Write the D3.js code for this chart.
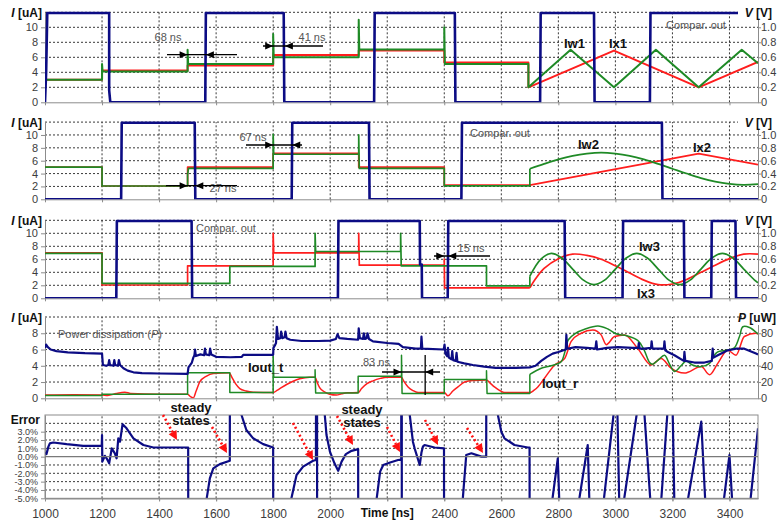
<!DOCTYPE html>
<html>
<head>
<meta charset="utf-8">
<script src="https://cdn.jsdelivr.net/npm/d3@7/dist/d3.min.js"></script>
<style>
  body { margin: 0; background: #fff; }
  svg { font-family: 'Liberation Sans', Arial, sans-serif; display: block; }
  .grid line { stroke: #222; stroke-width: 0.9; stroke-dasharray: 2 2; }
  .axis path, .axis line { stroke: #8c8c8c; }
  .axis text { fill: #3c3c3c; font-size: 11px; font-family: 'Liberation Sans', Arial, sans-serif; }
  .note { fill: #555; font-size: 11px; }
  .lbl { font-size: 13px; font-weight: bold; fill: #111; }
  .title { font-size: 12px; font-weight: bold; fill: #111; }
</style>
</head>
<body>
<svg width="777" height="524"></svg>
<script>
'use strict'

const timeTicks = [1000, 1200, 1400, 1600, 1800, 2000, 2200, 2400, 2600, 2800, 3000, 3200, 3400]
const iTicks = [0, 2, 4, 6, 8, 10]
const vTicks = [0, 0.2, 0.4, 0.6, 0.8, 1.0]
const iTicks4 = [0, 2, 4, 6, 8]
const pTicks = [0, 20, 40, 60, 80]
const errTicks = [-5, -4, -3, -2, -1, 0, 1, 2, 3]

// panel 1: comparator output [V], Iw1 / Ix1 [uA]
const cmp1 = [[1000, 0], [1004, 0.4], [1008, 1.19], [1225, 1.19], [1225, 0.16], [1229, 0], [1562, 0], [1564, 1.19],
  [1837, 1.19], [1839, 0], [2154, 0], [2156, 1.19], [2437, 1.19], [2439, 0], [2736, 0], [2738, 1.19],
  [2925, 1.19], [2927, 0], [3121, 0], [3123, 1.19], [3500, 1.19]]
const iw1 = [[1000, 3], [1200, 3], [1200, 5.1], [1202, 4.1], [1500, 4.1], [1500, 7], [1502, 5.1], [1800, 5.1],
  [1800, 9.1], [1802, 6.0], [2100, 6.0], [2100, 11], [2102, 7.05], [2400, 7.05], [2400, 10], [2402, 5.1],
  [2695, 5.1], [2695, 2], [2843, 7], [2995, 2], [3142, 7], [3292, 2], [3443, 7], [3500, 5.2]]
const ix1 = [[1000, 3], [1200, 3], [1200, 4.25], [1500, 4.25], [1500, 4.9], [1800, 4.9], [1800, 6.3], [2100, 6.3],
  [2100, 6.9], [2400, 6.9], [2400, 5.3], [2695, 5.3], [2695, 2], [2995, 6.9], [3292, 2], [3500, 5.4]]

// panel 2
const cmp2 = [[1000, 0], [1267, 0], [1269, 1.19], [1525, 1.19], [1527, 0], [1865, 0], [1867, 1.19], [2136, 1.19],
  [2138, 0], [2460, 0], [2462, 1.19], [3163, 1.19], [3165, 0], [3500, 0]]
const iw2 = [[1000, 5], [1200, 5], [1200, 2.07], [1500, 2.07], [1500, 3.8], [1503, 4.8], [1800, 4.8], [1800, 10.1],
  [1802, 7.0], [2100, 7.0], [2100, 10], [2102, 4.8], [2400, 4.8], [2400, 2.1], [2700, 2.1], [2700, 4.75]]
const iw2Wave = [[2700, 4.75], [2750, 5.5], [2800, 6.2], [2850, 6.75], [2900, 7.1], [2950, 7.25], [3000, 7.1],
  [3050, 6.75], [3100, 6.2], [3150, 5.5], [3200, 4.75], [3250, 4.0], [3300, 3.3], [3350, 2.75], [3400, 2.4],
  [3450, 2.25], [3500, 2.35]]
const ix2 = [[1000, 5], [1200, 5], [1200, 2.07], [1500, 2.07], [1500, 5.0], [1800, 5.0], [1800, 7.15], [2100, 7.15],
  [2100, 5.0], [2400, 5.0], [2400, 2.2], [2700, 2.2], [3292, 7.1], [3500, 5.4]]

// panel 3
const cmp3 = [[1000, 0], [1250, 0], [1252, 1.19], [1514, 1.19], [1516, 0], [2027, 0], [2029, 1.19], [2314, 1.19],
  [2315, 0.52], [2321, 0.52], [2322, 0], [2412, 0], [2414, 1.19], [2822, 1.19], [2824, 0], [3025, 0], [3027, 1.19],
  [3240, 1.19], [3242, 0], [3336, 0], [3338, 1.19], [3421, 1.19], [3423, 0], [3500, 0]]
const iw3 = [[1000, 6.9], [1200, 6.9], [1200, 2.3], [1648, 2.3], [1648, 4.9], [1947, 4.9], [1947, 10], [1949, 7.2],
  [2247, 7.2], [2247, 10], [2249, 5.0], [2548, 5.0], [2548, 1.9], [2700, 1.9], [2700, 3.4]]
const iw3Wave = [[2700, 3.4], [2738, 6.0], [2775, 6.9], [2812, 6.2], [2850, 4.5], [2888, 2.8], [2925, 2.1],
  [2962, 2.8], [3000, 4.5], [3038, 6.2], [3075, 6.9], [3112, 6.2], [3150, 4.5], [3188, 2.8], [3225, 2.1],
  [3262, 2.8], [3300, 4.5], [3338, 6.2], [3375, 6.9], [3412, 6.2], [3450, 4.5], [3488, 2.8], [3500, 2.4]]
const ix3 = [[1000, 7.0], [1200, 7.0], [1200, 2.05], [1500, 2.05], [1500, 5.0], [1800, 5.0], [1800, 10], [1802, 7.0],
  [2100, 7.0], [2100, 10], [2102, 5.1], [2400, 5.1], [2400, 6.05], [2401, 1.6], [2700, 1.6]]
const ix3Wave = [[2700, 1.6], [2720, 3.0], [2750, 4.6], [2800, 6.1], [2850, 6.8], [2900, 6.6], [2950, 6.0],
  [3000, 5.0], [3050, 3.9], [3100, 2.8], [3150, 2.1], [3200, 2.2], [3250, 2.9], [3300, 4.0], [3350, 5.1],
  [3400, 6.1], [3450, 6.8], [3500, 6.8]]

// panel 4: power [uW], Iout_t / Iout_r [uA]
const power = [[1000, 62], [1004, 66], [1010, 63], [1020, 60], [1040, 58], [1080, 56.5], [1140, 55.5], [1200, 55],
  [1201, 50], [1203, 41], [1215, 40], [1222, 41], [1225, 47], [1228, 41], [1240, 40], [1243, 47], [1246, 41],
  [1256, 40], [1259, 47], [1263, 41], [1275, 37], [1290, 34], [1310, 32], [1340, 31], [1400, 30.5], [1500, 30],
  [1503, 38], [1515, 44], [1520, 50], [1524, 53], [1526, 60], [1529, 52], [1545, 54], [1558, 53], [1561, 61],
  [1564, 54], [1576, 53], [1579, 61], [1583, 54], [1600, 51], [1650, 50.5], [1690, 51], [1695, 53.5], [1800, 53.5],
  [1801, 62], [1806, 65], [1810, 68], [1813, 88], [1817, 73], [1825, 74], [1828, 82], [1832, 74], [1840, 75],
  [1843, 82], [1847, 74], [1860, 72], [1900, 70.5], [1960, 70.5], [2000, 71], [2020, 73], [2026, 79], [2032, 74],
  [2060, 73], [2098, 72], [2100, 86], [2104, 74], [2115, 73], [2118, 80], [2122, 73], [2128, 74], [2131, 80],
  [2136, 73], [2150, 70], [2200, 68], [2240, 67], [2255, 63], [2300, 61], [2318, 61], [2320, 76], [2323, 61],
  [2398, 60], [2401, 66], [2404, 55], [2410, 52], [2413, 62], [2416, 50], [2425, 48], [2428, 58], [2431, 47],
  [2440, 46], [2443, 56], [2446, 45], [2470, 43], [2500, 41], [2540, 39], [2580, 37.5], [2650, 37.5], [2700, 38],
  [2720, 40], [2740, 46], [2760, 51], [2780, 55], [2800, 57], [2826, 60], [2828, 78], [2831, 61], [2860, 63],
  [2900, 62], [2930, 61], [2933, 70], [2936, 60], [2970, 62], [3009, 63], [3060, 62], [3080, 62], [3082, 68],
  [3085, 61], [3102, 61], [3125, 62], [3127, 70], [3130, 61], [3150, 61], [3170, 61], [3172, 70], [3175, 59],
  [3184, 57], [3207, 53], [3240, 46], [3242, 57], [3245, 46], [3277, 44], [3312, 44], [3338, 46], [3341, 61],
  [3344, 50], [3359, 53], [3394, 59], [3423, 61], [3452, 61], [3493, 55], [3500, 54]]
const ioutT = [[1000, 0.35], [1200, 0.35], [1200, 0.5], [1500, 0.5], [1500, 3.15], [1648, 3.15], [1648, 0.7],
  [1800, 0.7], [1800, 5.2], [1802, 2.6], [1947, 2.6], [1947, 3.5], [1949, 0.65], [2098, 0.65], [2098, 2.7],
  [2250, 2.7], [2250, 5.3], [2252, 0.6], [2400, 0.6], [2400, 2.3], [2548, 2.3], [2548, 3.4], [2550, 0.6],
  [2700, 0.6], [2700, 2.95]]
const ioutTWave = [[2700, 2.95], [2740, 3.7], [2775, 4.0], [2810, 4.5], [2822, 5.6], [2835, 7.2], [2860, 8.0],
  [2892, 8.5], [2939, 8.9], [2975, 8.5], [3005, 7.9], [3040, 7.7], [3079, 7.1], [3100, 6.0], [3120, 4.4],
  [3130, 4.2], [3150, 4.7], [3172, 5.3], [3190, 4.2], [3207, 3.3], [3230, 4.0], [3248, 4.6], [3270, 4.1],
  [3301, 3.9], [3330, 4.3], [3345, 5.2], [3359, 5.7], [3390, 5.9], [3417, 6.2], [3435, 7.6], [3447, 8.8],
  [3470, 8.7], [3500, 7.9]]
const ioutR = [[1000, 0.4], [1100, 0.45], [1200, 0.4], [1220, 0.35], [1250, 0.6], [1280, 0.75], [1300, 0.6],
  [1400, 0.5], [1500, 0.5], [1510, 0.2], [1520, 0.05], [1530, 0.9], [1543, 2.05], [1565, 2.7], [1590, 3.05],
  [1646, 3.15], [1655, 2.6], [1668, 1.8], [1683, 1.2], [1705, 0.9], [1730, 0.75], [1800, 0.72], [1815, 1.0],
  [1830, 1.35], [1847, 1.7], [1870, 2.1], [1893, 2.4], [1928, 2.6], [1947, 2.6], [1955, 1.9], [1963, 1.3],
  [1980, 0.8], [1998, 0.5], [2022, 0.4], [2040, 0.55], [2060, 0.68], [2098, 0.7], [2110, 1.2], [2129, 1.8],
  [2150, 2.15], [2176, 2.45], [2200, 2.6], [2250, 2.6], [2258, 2.1], [2273, 1.4], [2290, 0.95], [2308, 0.7],
  [2400, 0.7], [2413, 0.3], [2430, 0.9], [2448, 1.4], [2471, 2.0], [2500, 2.2], [2548, 2.25], [2560, 1.9],
  [2576, 1.4], [2595, 0.95], [2611, 0.7], [2700, 0.7], [2715, 1.0], [2728, 1.4], [2752, 2.5], [2787, 4.1],
  [2822, 4.9], [2845, 7.0], [2880, 8.0], [2921, 8.4], [2950, 7.8], [2968, 6.6], [2997, 7.6], [3032, 7.8],
  [3079, 6.1], [3125, 4.1], [3160, 4.9], [3195, 3.7], [3242, 3.1], [3301, 3.9], [3330, 2.9], [3359, 4.3],
  [3394, 5.9], [3423, 5.3], [3452, 7.6], [3493, 8.0], [3500, 7.9]]

// panel 5: error [%], null breaks the trace where it leaves the scale
const errorPct = [[1000, 0.5], [1005, 0.3], [1012, 1.2], [1017, 1.6], [1029, 1.7], [1076, 1.5], [1134, 1.3],
  [1199, 1.3], [1200, 2.6], [1201, -0.6], [1210, 0.1], [1216, -0.2], [1225, -0.8], [1234, 1.0], [1245, 0.4],
  [1251, -0.2], [1257, 2.2], [1263, 1.8], [1272, 3.9], [1286, 3.4], [1310, 2.2], [1345, 1.4], [1380, 1.1],
  [1502, 1.1], [1503, -30], null,
  [1560, -30], [1567, -5], [1578, -2.6], [1590, -1.4], [1613, -0.9], [1648, -0.5], [1649, 30], null,
  [1684, 30], [1689, 5], [1706, 3.2], [1730, 2.2], [1765, 1.5], [1800, 1.1], [1801, -30], null,
  [1860, -30], [1864, -5], [1882, -2.2], [1905, -1.2], [1940, -0.5], [1950, -0.4], [1951, 30], null,
  [1954, 30], [1954, -30], null,
  [1978, 30], [1981, 5], [1987, 2.6], [1999, 0.6], [2015, -0.8], [2028, -1.7], [2040, -0.6], [2055, 0.3],
  [2075, 0.7], [2098, 0.9], [2099, -30], null,
  [2160, -30], [2163, -5], [2175, -1.8], [2186, -1.0], [2210, -0.7], [2238, -0.4], [2249, -0.35], [2250, 30], null,
  [2251, 30], [2251, -30], null,
  [2276, 30], [2279, 5], [2290, 1.8], [2296, 1.0], [2314, -1.0], [2320, 0.5], [2325, 1.2], [2331, 1.4],
  [2366, 1.1], [2399, 1.0], [2400, -30], null,
  [2460, -30], [2465, -5], [2477, 0.2], [2495, 0.4], [2530, 0.0], [2547, 0.0], [2548, 30], null,
  [2585, 30], [2588, 5], [2600, 3.0], [2611, 2.2], [2646, 1.4], [2693, 1.1], [2699, 1.1], [2700, -30], null,
  [2768, -8], [2798, -0.2], [2806, -8], null,
  [2860, -8], [2903, 1.4], [2911, -8], null,
  [2950, -8], [3000, 7], [3006, 7], [3015, -8], [3018, -8], [3083, 7], [3098, 7], [3128, -8], null,
  [3155, -8], [3186, 7], [3200, 7], [3208, -8], null,
  [3240, -8], [3301, 4.2], [3319, -8], null,
  [3370, -8], [3400, 0.2], [3414, -8], null,
  [3465, -8], [3500, 3.4]]

const blue = '#0c0c84'
const red = '#ff1e1e'
const green = '#1f8a26'

const svg = d3.select('svg')
const x = d3.scaleLinear().domain([1000, 3500]).range([45, 758])

function lineOf (ys, curve) {
  return d3.line()
    .defined(function (d) { return d !== null })
    .x(function (d) { return x(d[0]) })
    .y(function (d) { return ys(d[1]) })
    .curve(curve || d3.curveLinear)
}

function panel (top, bottom, dom, grid, ticks, fmt) {
  const y = d3.scaleLinear().domain(dom).range([bottom, top])
  const g = svg.append('g')
  const id = 'clip' + Math.round(top)
  svg.append('clipPath').attr('id', id)
    .append('rect')
    .attr('x', 45).attr('y', top - 2)
    .attr('width', 713).attr('height', bottom - top + 2)
  g.append('g').attr('class', 'grid')
    .selectAll('line').data(timeTicks.slice(1)).join('line')
    .attr('x1', function (d) { return x(d) }).attr('x2', function (d) { return x(d) })
    .attr('y1', bottom).attr('y2', top)
  g.append('g').attr('class', 'grid')
    .selectAll('line').data(grid).join('line')
    .attr('x1', 45).attr('x2', 758)
    .attr('y1', function (d) { return y(d) }).attr('y2', function (d) { return y(d) })
  g.append('g').attr('class', 'axis')
    .attr('transform', 'translate(0,' + bottom + ')')
    .call(d3.axisBottom(x).tickValues(timeTicks).tickSize(3).tickSizeOuter(0).tickFormat(''))
  const left = g.append('g').attr('class', 'axis left')
    .attr('transform', 'translate(45,0)')
    .call(d3.axisLeft(y).tickValues(ticks).tickSize(4).tickSizeOuter(0).tickFormat(fmt || d3.format('d')))
  const plot = g.append('g').attr('clip-path', 'url(#' + id + ')')
  return { g: g, y: y, plot: plot, left: left }
}

function rightAxis (p, dom, ticks, fmt) {
  const yr = d3.scaleLinear().domain(dom).range(p.y.range())
  p.g.append('g').attr('class', 'axis')
    .attr('transform', 'translate(758,0)')
    .call(d3.axisRight(yr).tickValues(ticks).tickSize(3).tickSizeOuter(0).tickFormat(fmt))
    .selectAll('text').attr('x', 3)
  return yr
}

function trace (p, ys, data, color, width, curve) {
  p.plot.append('path')
    .attr('d', lineOf(ys, curve)(data))
    .attr('fill', 'none')
    .attr('stroke', color)
    .attr('stroke-width', width)
    .attr('stroke-linejoin', 'round')
}

function axisTitle (xp, yp, anchor, sym, unit, bg) {
  if (bg) {
    svg.append('rect').attr('x', xp - 34).attr('y', yp - 11).attr('width', 36).attr('height', 14).attr('fill', '#fff')
  }
  const t = svg.append('text').attr('class', 'title')
    .attr('x', xp).attr('y', yp).attr('text-anchor', anchor)
  t.append('tspan').attr('font-style', 'italic').text(sym)
  t.append('tspan').text(unit)
}

function head (tx, ty, dir) {
  svg.append('path')
    .attr('d', 'M' + tx + ',' + ty + 'L' + (tx - dir * 8) + ',' + (ty - 3.5) + 'L' + (tx - dir * 8) + ',' + (ty + 3.5) + 'Z')
    .attr('fill', '#000')
}

function span (yp, x1, x2, tA, tB) {
  svg.append('line').attr('x1', x1).attr('x2', x2).attr('y1', yp).attr('y2', yp)
    .attr('stroke', '#000').attr('stroke-width', 1.3)
  head(x(tA), yp, 1)
  head(x(tB), yp, -1)
}

function note (xp, yp, txt, cls, anchor) {
  return svg.append('text').attr('class', cls || 'note')
    .attr('x', xp).attr('y', yp)
    .attr('text-anchor', anchor || 'start')
    .text(txt)
}

function pointer (x1, y1, x2, y2) {
  const a = Math.atan2(y2 - y1, x2 - x1)
  const hx = x2 - 9 * Math.cos(a)
  const hy = y2 - 9 * Math.sin(a)
  svg.append('line').attr('x1', x1).attr('y1', y1).attr('x2', hx).attr('y2', hy)
    .attr('stroke', '#ff1010').attr('stroke-width', 2.6).attr('stroke-dasharray', '2 2.5')
  const px = -Math.sin(a) * 4.5
  const py = Math.cos(a) * 4.5
  svg.append('path')
    .attr('d', 'M' + x2 + ',' + y2 + 'L' + (hx + px) + ',' + (hy + py) + 'L' + (hx - px) + ',' + (hy - py) + 'Z')
    .attr('fill', '#ff1010')
}

const fmtV = function (d) { return d === 0 ? '0' : d.toFixed(1) }

// ---- panel 1
const p1 = panel(12.3, 102.3, [0, 12], [2, 4, 6, 8, 10, 12], iTicks)
const v1 = rightAxis(p1, [0, 1.2], vTicks, fmtV)
trace(p1, p1.y, ix1, red, 2)
trace(p1, p1.y, iw1, green, 2)
trace(p1, v1, cmp1, blue, 2.6)
axisTitle(42, 17, 'end', 'I', ' [uA]')
axisTitle(772, 17, 'end', 'V', ' [V]', true)

// ---- panel 2
const p2 = panel(122.1, 199.3, [0, 12], [2, 4, 6, 8, 10, 12], iTicks)
const v2 = rightAxis(p2, [0, 1.2], vTicks, fmtV)
trace(p2, p2.y, ix2, red, 1.7)
trace(p2, p2.y, iw2, green, 1.7)
trace(p2, p2.y, iw2Wave, green, 1.7, d3.curveCatmullRom)
trace(p2, v2, cmp2, blue, 2.6)
axisTitle(42, 127, 'end', 'I', ' [uA]')
axisTitle(772, 127, 'end', 'V', ' [V]', true)

// ---- panel 3
const p3 = panel(220.3, 298.3, [0, 12], [2, 4, 6, 8, 10, 12], iTicks)
const v3 = rightAxis(p3, [0, 1.2], vTicks, fmtV)
trace(p3, p3.y, ix3, red, 1.7)
trace(p3, p3.y, ix3Wave, red, 1.7, d3.curveCatmullRom)
trace(p3, p3.y, iw3, green, 1.7)
trace(p3, p3.y, iw3Wave, green, 1.7, d3.curveCatmullRom)
trace(p3, v3, cmp3, blue, 2.6)
axisTitle(42, 225, 'end', 'I', ' [uA]')
axisTitle(772, 225, 'end', 'V', ' [V]', true)

// ---- panel 4
const p4 = panel(317, 398.3, [0, 10], [2, 4, 6, 8, 10], iTicks4)
const w4 = rightAxis(p4, [0, 100], pTicks, d3.format('d'))
trace(p4, p4.y, ioutR, red, 1.5, d3.curveMonotoneX)
trace(p4, p4.y, ioutT, green, 1.5)
trace(p4, p4.y, ioutTWave, green, 1.5, d3.curveCatmullRom)
trace(p4, w4, power, blue, 2.2)
axisTitle(42, 322, 'end', 'I', ' [uA]')
axisTitle(776, 322, 'end', 'P', ' [uW]', true)

// ---- panel 5
const p5 = panel(415, 498.3, [-5, 5], [-4, -3, -2, -1, 1, 2, 3, 4], errTicks, function (d) { return d.toFixed(1) + '%' })
p5.left.selectAll('text').style('font-size', '9px')
p5.g.append('rect').attr('x', 45).attr('y', 415).attr('width', 713).attr('height', 83.3)
  .attr('fill', 'none').attr('stroke', '#8c8c8c')
p5.g.append('line').attr('x1', 45).attr('x2', 758).attr('y1', p5.y(0)).attr('y2', p5.y(0))
  .attr('stroke', '#7a7a7a').attr('stroke-width', 1.2)
svg.append('clipPath').attr('id', 'clipErr').append('rect')
  .attr('x', 45).attr('y', 415).attr('width', 713).attr('height', 83.3)
p5.plot.attr('clip-path', 'url(#clipErr)')
trace(p5, p5.y, errorPct, blue, 2.2)
p5.g.append('g').attr('class', 'axis')
  .attr('transform', 'translate(0,498.3)')
  .call(d3.axisBottom(x).tickValues(timeTicks).tickSize(3).tickSizeOuter(0).tickPadding(8)
    .tickFormat(function (d) { return d === 2200 ? '' : d }))
  .selectAll('text').style('font-size', '12px')
note(40, 424, 'Error', 'title', 'end')
note(x(2200), 517, 'Time [ns]', 'title', 'middle')

// ---- annotations
note(168, 41, '68 ns', 'note', 'middle')
span(54.7, 167, 237, 1500, 1564)
note(312, 41, '41 ns', 'note', 'middle')
span(46, 263, 323, 1800, 1841)
note(666, 29, 'Compar. out', 'note', 'start')
note(564, 48, 'Iw1', 'lbl')
note(609, 48, 'Ix1', 'lbl')

note(253, 141, '67 ns', 'note', 'middle')
span(145, 246, 302, 1800, 1867)
note(223, 192, '27 ns', 'note', 'middle')
span(185.7, 166, 237, 1500, 1527)
note(470, 137, 'Compar. out', 'note', 'start')
note(578, 149, 'Iw2', 'lbl')
note(693, 152, 'Ix2', 'lbl')

note(196, 232, 'Compar. out', 'note', 'start')
note(471, 252, '15 ns', 'note', 'middle')
span(256, 434, 490, 2400, 2414)
note(639, 251, 'Iw3', 'lbl')
note(637, 298, 'Ix3', 'lbl')

const pd = note(58, 338, 'Power dissipation (', 'note', 'start')
pd.append('tspan').attr('font-style', 'italic').text('P')
pd.append('tspan').text(')')
note(248, 372, 'Iout_t', 'lbl')
note(542, 388, 'Iout_r', 'lbl')
note(363, 366, '83 ns', 'note', 'start')
span(372, 382, 440, 2250, 2333)
svg.append('line').attr('x1', x(2333)).attr('x2', x(2333)).attr('y1', 355).attr('y2', 395)
  .attr('stroke', '#000').attr('stroke-width', 1.3)

note(191, 412, 'steady', 'lbl', 'middle')
note(191, 425, 'states', 'lbl', 'middle')
note(362, 414, 'steady', 'lbl', 'middle')
note(362, 427, 'states', 'lbl', 'middle')
pointer(163, 415, 177, 440)
pointer(212, 427, 227, 453)
pointer(293, 423, 313, 460)
pointer(337, 416, 353, 445)
pointer(387, 427, 400, 452)
pointer(425, 420, 438, 445)
pointer(467, 428, 483, 453)
</script>
</body>
</html>
